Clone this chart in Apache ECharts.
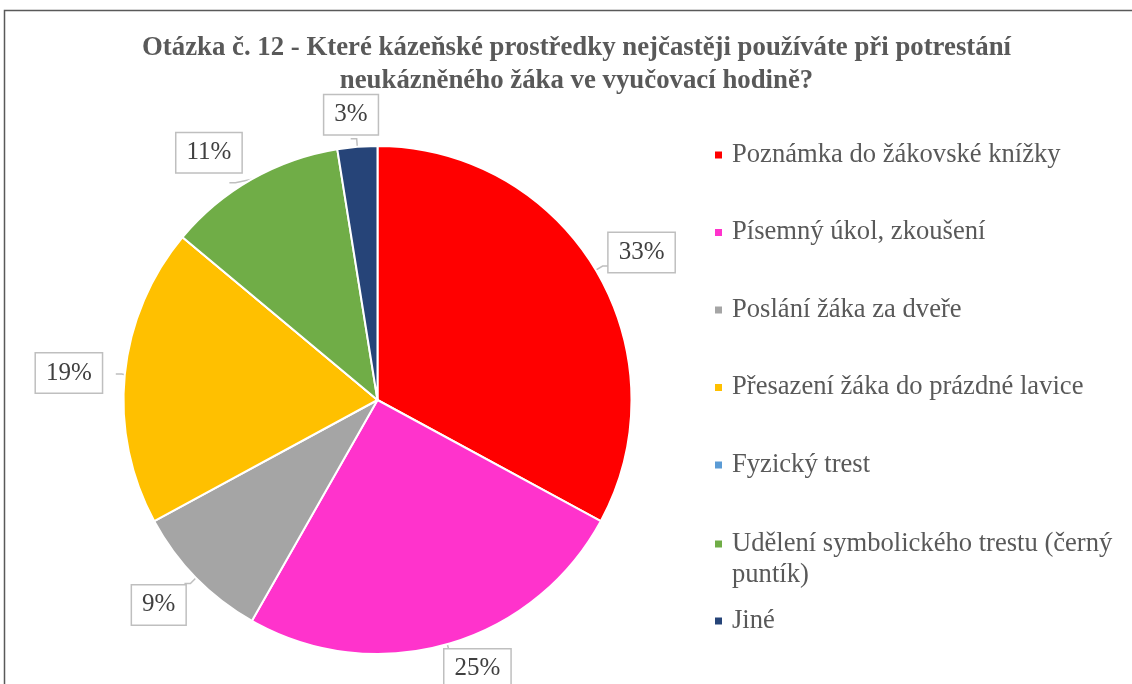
<!DOCTYPE html>
<html lang="cs">
<head>
    <meta charset="utf-8">
    <title>Otázka č. 12</title>
    <style>
        html,body,#chart{
            height: 100%;
            width: 100%;
            padding: 0;
            margin: 0;
            background: #fff;
        }
    </style>
</head>
<body>
    <div id="chart"></div>
    <script src="https://cdn.jsdelivr.net/npm/echarts@6/dist/echarts.min.js"></script>
    <script>
        // počty odpovědí (celkem 79)
        var categories = [
            'Poznámka do žákovské knížky',
            'Písemný úkol, zkoušení',
            'Poslání žáka za dveře',
            'Přesazení žáka do prázdné lavice',
            'Fyzický trest',
            'Udělení symbolického trestu (černý puntík)',
            'Jiné'
        ];
        var counts = [26, 20, 7, 15, 0, 9, 2];
        var colors = ['#FF0000', '#FF33CC', '#A5A5A5', '#FFC000', '#5B9BD5', '#70AD47', '#264478'];

        var serif = '"Liberation Serif", "Times New Roman", serif';
        var grey = '#595959';
        var titleText = 'Otázka č. 12 - Které kázeňské prostředky nejčastěji používáte při potrestání\nneukázněného žáka ve vyučovací hodině?';

        // posun popisků jako v Excelu (callouty)
        var labelShift = [[-5, -13.5], [-16, 17], [6, 21.5], [-9, -1], [0, 0], [17, -30], [32, -24]];

        var pieData = categories.map(function (name, i) {
            var item = { name: name, value: counts[i], itemStyle: { color: colors[i] } };
            if (!counts[i]) {
                item.label = { show: false };
                item.labelLine = { show: false };
            }
            return item;
        });

        function legendBase(top, names) {
            return {
                orient: 'vertical',
                left: 713,
                top: top,
                padding: 0,
                itemWidth: 9,
                itemHeight: 9,
                itemGap: 46.5,
                icon: 'rect',
                selectedMode: false,
                data: names,
                textStyle: { fontFamily: serif, fontSize: 26.6, color: grey, lineHeight: 31, padding: [0, 0, 0, 4] }
            };
        }

        var legendMain = legendBase(139.5, categories.slice(0, 5));
        var legendWrap = legendBase(497.5, [categories[5]]);
        // prázdný první řádek, aby ikona seděla u prvního řádku textu
        legendWrap.formatter = function () { return '\nUdělení symbolického trestu (černý\npuntík)'; };
        var legendLast = legendBase(605.5, [categories[6]]);

        var chart = echarts.init(document.getElementById('chart'));
        chart.setOption({
            animation: false,
            graphic: [{
                type: 'rect',
                shape: { x: 4.5, y: 10.5, width: 1300, height: 900 },
                style: { fill: 'none', stroke: grey, lineWidth: 1.5 },
                silent: true
            }, {
                type: 'text',
                x: 576.5,
                y: 31,
                silent: true,
                style: {
                    text: titleText,
                    align: 'center',
                    verticalAlign: 'top',
                    fontFamily: serif,
                    fontSize: 26.8,
                    fontWeight: 'bold',
                    lineHeight: 33.5,
                    fill: grey
                }
            }],
            legend: [legendMain, legendWrap, legendLast],
            series: [{
                type: 'pie',
                center: [377.5, 400],
                radius: 254,
                startAngle: 90,
                clockwise: true,
                data: pieData,
                itemStyle: { borderColor: '#fff', borderWidth: 2 },
                label: {
                    position: 'outside',
                    formatter: function (p) { return Math.round(p.percent) + '%'; },
                    fontFamily: serif,
                    fontSize: 25,
                    color: '#404040',
                    backgroundColor: '#fff',
                    borderColor: '#bfbfbf',
                    borderWidth: 1.5,
                    padding: [7, 10]
                },
                labelLine: {
                    show: true,
                    length: 8,
                    length2: 6,
                    lineStyle: { color: '#bfbfbf', width: 1.5 }
                },
                labelLayout: function (p) {
                    var s = labelShift[p.dataIndex];
                    return { dx: s[0], dy: s[1] };
                }
            }]
        });
    </script>
</body>
</html>
